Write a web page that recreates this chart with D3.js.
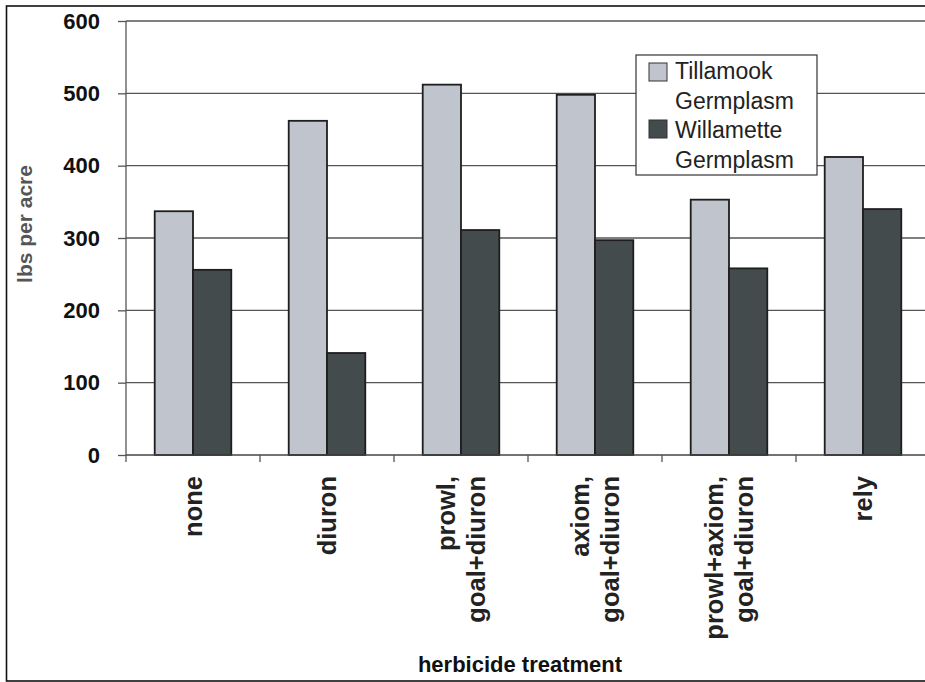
<!DOCTYPE html>
<html>
<head>
<meta charset="utf-8">
<script src="https://cdn.jsdelivr.net/npm/d3@7"></script>
<style>
  body { margin: 0; background: #fff; }
  svg { display: block; font-family: "Liberation Sans", Arial, sans-serif; }
</style>
</head>
<body>
<svg id="chart"></svg>
<script>
var categories = ["none", "diuron", "prowl,\ngoal+diuron", "axiom,\ngoal+diuron", "prowl+axiom,\ngoal+diuron", "rely"];
var seriesNames = ["Tillamook Germplasm", "Willamette Germplasm"];
var legendLines = [["Tillamook", "Germplasm"], ["Willamette", "Germplasm"]];
var tillamook = [337, 462, 512, 498, 353, 412];
var willamette = [256, 141, 311, 297, 258, 340];
var yTicks = [0, 100, 200, 300, 400, 500, 600];

var colors = ["#c0c4cc", "#434b4c"];

var W = 925, H = 682;
var plotLeft = 126, plotTop = 21, plotBottom = 455, plotRight = 930;

var svg = d3.select("#chart").attr("width", W).attr("height", H);

var data = categories.map(function (c, i) {
    return { cat: c, values: [tillamook[i], willamette[i]] };
});

var x = d3.scaleBand()
    .domain(categories)
    .range([plotLeft, plotRight])
    .padding(0);

var xs = d3.scaleBand()
    .domain(seriesNames)
    .range([0, x.bandwidth()])
    .paddingInner(0)
    .paddingOuter(0.75);

var y = d3.scaleLinear()
    .domain([0, 600])
    .range([plotBottom, plotTop]);

// outer frame
svg.append("rect")
    .attr("x", 6.5).attr("y", 6)
    .attr("width", W + 20).attr("height", 675)
    .attr("fill", "none")
    .attr("stroke", "#111")
    .attr("stroke-width", 1.6);

// gridlines
svg.append("g")
    .selectAll("line")
    .data(yTicks.filter(function (d) { return d > 0; }))
    .enter()
    .append("line")
    .attr("x1", plotLeft).attr("x2", plotRight)
    .attr("y1", d => y(d)).attr("y2", d => y(d))
    .style("stroke", "#555")
    .style("stroke-width", 1.3);

// bars
var groups = svg.append("g")
    .selectAll("g")
    .data(data)
    .enter()
    .append("g")
    .attr("transform", d => "translate(" + x(d.cat) + ",0)");

groups.selectAll("rect")
    .data(d => d.values.map(function (v, j) { return { name: seriesNames[j], value: v, j: j }; }))
    .enter()
    .append("rect")
    .attr("x", d => xs(d.name))
    .attr("y", d => y(d.value))
    .attr("width", xs.bandwidth())
    .attr("height", d => plotBottom - y(d.value))
    .attr("fill", d => colors[d.j])
    .attr("stroke", "#1e1e1e")
    .attr("stroke-width", 1.8);

// y axis
var yAxis = d3.axisLeft(y)
    .tickValues(yTicks)
    .tickSize(8)
    .tickPadding(18);

var gy = svg.append("g")
    .attr("transform", "translate(" + plotLeft + ",0)")
    .call(yAxis);
gy.select(".domain").remove();
gy.selectAll(".tick line").attr("stroke", "#555").attr("stroke-width", 1.3);
gy.selectAll(".tick text")
    .attr("fill", "#111")
    .style("font-size", "22px")
    .style("font-weight", "bold");

svg.append("line")
    .attr("x1", plotLeft).attr("x2", plotLeft)
    .attr("y1", plotTop).attr("y2", plotBottom + 7)
    .style("stroke", "#555")
    .style("stroke-width", 1.3);

// x axis
svg.append("line")
    .attr("x1", plotLeft).attr("x2", plotRight)
    .attr("y1", plotBottom).attr("y2", plotBottom)
    .style("stroke", "#444")
    .style("stroke-width", 1.5);

svg.append("g")
    .selectAll("line")
    .data(categories.slice(1))
    .enter()
    .append("line")
    .attr("x1", d => x(d)).attr("x2", d => x(d))
    .attr("y1", plotBottom).attr("y2", plotBottom + 7)
    .style("stroke", "#555")
    .style("stroke-width", 1.3);

var labels = svg.append("g")
    .selectAll("text")
    .data(categories)
    .enter()
    .append("text")
    .attr("transform", d => "translate(" + (x(d) + x.bandwidth() / 2) + "," + (plotBottom + 21) + ") rotate(-90)")
    .attr("text-anchor", "end")
    .attr("fill", "#222")
    .style("font-size", "25.5px")
    .style("font-weight", "bold");

labels.each(function (d) {
    var lines = d.split("\n");
    var t = d3.select(this);
    lines.forEach(function (line, i) {
        t.append("tspan")
            .attr("x", 0)
            .attr("dy", lines.length === 1 ? "0.35em" : (i === 0 ? "-0.22em" : "1.18em"))
            .text(line);
    });
});

// axis titles
svg.append("text")
    .attr("x", 520)
    .attr("y", 672)
    .attr("text-anchor", "middle")
    .attr("fill", "#111")
    .style("font-size", "22px")
    .style("font-weight", "bold")
    .text("herbicide treatment");

svg.append("text")
    .attr("transform", "translate(32,224) rotate(-90)")
    .attr("text-anchor", "middle")
    .attr("fill", "#555")
    .style("font-size", "21px")
    .style("font-weight", "bold")
    .text("lbs per acre");

// legend
var legend = svg.append("g").attr("transform", "translate(636,55)");
legend.append("rect")
    .attr("width", 181).attr("height", 120)
    .attr("fill", "#fff")
    .attr("stroke", "#333")
    .attr("stroke-width", 1.2);

legendLines.forEach(function (lines, i) {
    legend.append("rect")
        .attr("x", 13).attr("y", 8 + i * 57)
        .attr("width", 18).attr("height", 18)
        .attr("fill", colors[i])
        .attr("stroke", "#333")
        .attr("stroke-width", 1);
    lines.forEach(function (line, k) {
        legend.append("text")
            .attr("x", 39)
            .attr("y", 24 + i * 59 + k * 30)
            .attr("fill", "#222")
            .style("font-size", "23px")
            .text(line);
    });
});
</script>
</body>
</html>
